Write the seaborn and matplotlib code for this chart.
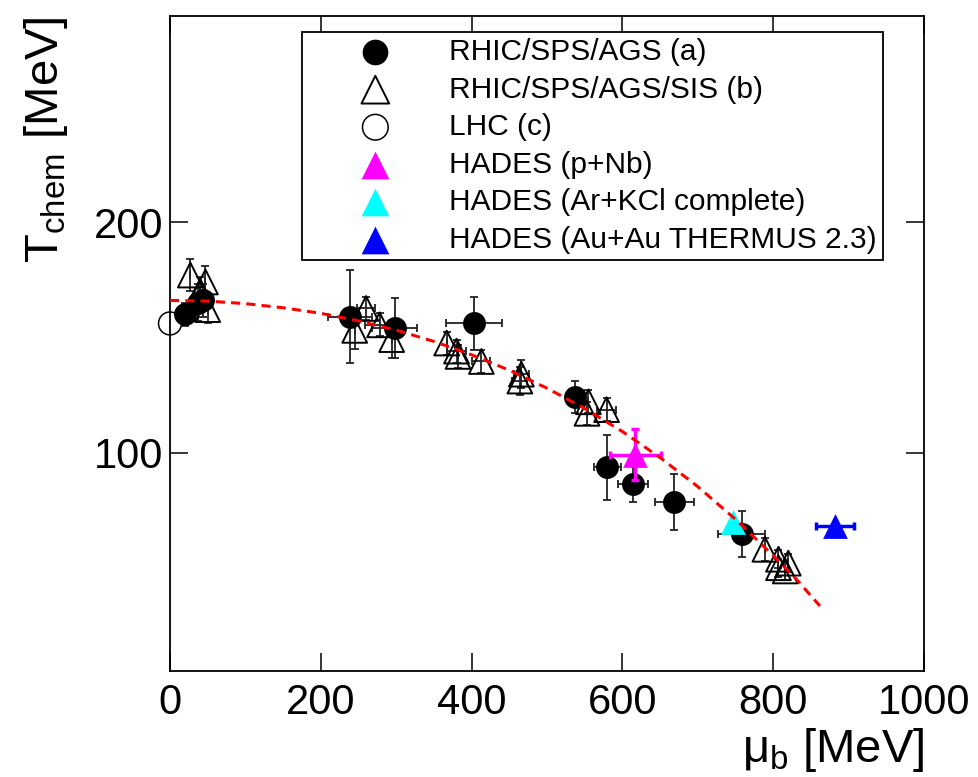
import matplotlib
matplotlib.use("Agg")
import matplotlib.pyplot as plt
import seaborn as sns
import numpy as np
import pandas as pd

# RHIC/SPS/AGS (a): filled circles
a_mu = [20, 37, 44, 239, 298, 403, 537, 580, 614, 669, 758]
a_T = [160, 165, 166, 159, 154, 156, 124, 93.5, 86.5, 78.5, 64.5]
a_xerr = [0, 0, 0, 29, 30, 37, 8, 18, 20, 26, 31]
a_yerr = [5, 8, 7, 20, 13, 11.5, 7, 14, 8, 12, 10]

# RHIC/SPS/AGS/SIS (b): open triangles
b_mu = [27, 47, 40, 50, 260, 245, 278, 294, 367, 380, 382, 413, 466, 464,
        555, 579, 553, 789, 807, 820, 807, 816]
b_T = [177, 174, 170, 162, 162.5, 153, 155.4, 149, 147.5, 144, 141.7, 139.5,
       134, 131, 122, 118.6, 117, 58, 53.7, 52, 50, 48.6]
b_xerr = [0, 0, 0, 0, 12, 0, 20, 0, 0, 12, 0, 12, 10, 10,
          0, 13, 0, 0, 0, 0, 0, 0]
b_yerr = [7, 7, 6, 6, 5, 8, 5, 8, 5, 5, 5, 5, 6, 6,
          5, 5, 5, 5, 4, 4, 4, 4]

# LHC (c)
c_mu = [0]
c_T = [156]

# HADES points
pnb_mu, pnb_T, pnb_xerr, pnb_yerr = [617], [99], [34], [11]
arkcl_mu, arkcl_T = [747], [70]
auau_mu, auau_T, auau_xerr = [882], [68], [25]

# Freeze-out curve
curve_mu = [0, 50, 100, 150, 200, 250, 300, 350, 400, 450, 500, 550, 600,
            650, 700, 750, 800, 830, 862]
curve_T = [166, 165.7, 164.6, 162.8, 160.4, 157.1, 153.1, 148.2, 142.4, 135.7,
           127.9, 119.1, 109.1, 97.8, 85.2, 71.0, 55.3, 45.3, 33.4]

labels = ["RHIC/SPS/AGS (a)", "RHIC/SPS/AGS/SIS (b)", "LHC (c)",
          "HADES (p+Nb)", "HADES (Ar+KCl complete)", "HADES (Au+Au THERMUS 2.3)"]

sns.set_theme(style="ticks")
plt.rcParams["font.family"] = ["Liberation Sans", "DejaVu Sans"]
plt.rcParams["mathtext.default"] = "regular"
plt.rcParams["text.color"] = "black"
plt.rcParams["axes.labelcolor"] = "black"

fig = plt.figure(figsize=(9.79, 7.77), dpi=100)
ax = fig.add_axes([170 / 979, 1 - 671 / 777, 754 / 979, 655 / 777])

ms = 16.5
s = ms ** 2
st = (ms * 1.08) ** 2
ebkw = dict(fmt="none", ecolor="#222222", elinewidth=1.3, capsize=3, capthick=1.3)

# error bars
ax.errorbar(b_mu, b_T, xerr=b_xerr, yerr=b_yerr, zorder=1, **ebkw)
ax.errorbar(a_mu, a_T, xerr=a_xerr, yerr=a_yerr, zorder=1, **ebkw)
ax.errorbar(pnb_mu, pnb_T, xerr=pnb_xerr, yerr=pnb_yerr, fmt="none",
            ecolor="#FF00FF", elinewidth=2.5, capsize=3, capthick=2.5, zorder=4)
ax.errorbar(auau_mu, auau_T, xerr=auau_xerr, fmt="none",
            ecolor="#0000FF", elinewidth=2.5, capsize=3, capthick=2.5, zorder=4)

# markers
sns.scatterplot(x=b_mu, y=b_T, marker="^", s=st, facecolors="none",
                edgecolor="black", linewidth=1.4, label=labels[1], ax=ax, zorder=2)
sns.scatterplot(x=a_mu, y=a_T, marker="o", s=s, color="black",
                edgecolor="black", linewidth=0, label=labels[0], ax=ax, zorder=3)
sns.scatterplot(x=c_mu, y=c_T, marker="o", s=s, facecolors="none",
                edgecolor="black", linewidth=1.1, label=labels[2], ax=ax, zorder=3,
                clip_on=False)
sns.scatterplot(x=pnb_mu, y=pnb_T, marker="^", s=st, color="#FF00FF",
                linewidth=0, label=labels[3], ax=ax, zorder=5)
sns.scatterplot(x=arkcl_mu, y=arkcl_T, marker="^", s=st, color="#00FFFF",
                linewidth=0, label=labels[4], ax=ax, zorder=5)
sns.scatterplot(x=auau_mu, y=auau_T, marker="^", s=st, color="#0000FF",
                linewidth=0, label=labels[5], ax=ax, zorder=5)

# freeze-out curve
sns.lineplot(x=curve_mu, y=curve_T, color="red", linewidth=2.2,
             dashes=False, ax=ax, zorder=6, sort=False)
ax.lines[-1].set_dashes((3, 2))

ax.set_xlim(0, 1000)
ax.set_ylim(5.2, 289.4)
ax.set_xticks([0, 200, 400, 600, 800, 1000])
ax.set_yticks([100, 200])

for sp in ax.spines.values():
    sp.set_linewidth(1.3)
    sp.set_color("black")
ax.tick_params(which="major", direction="in", length=13, width=1.1,
               top=True, right=True, labelsize=30, colors="black")
ax.tick_params(axis="x", pad=9)
ax.tick_params(axis="y", pad=5)

ax.set_xlabel(r"$\mu_{b}$ [MeV]", fontsize=34, loc="right", labelpad=2)
ax.set_ylabel(r"$T_{chem}$ [MeV]", fontsize=34, loc="top", labelpad=17)

handles, labs = ax.get_legend_handles_labels()
order = [labs.index(l) for l in labels]
leg = ax.legend([handles[i] for i in order], [labs[i] for i in order],
                loc="upper right", bbox_to_anchor=(0.9456, 0.9756),
                borderaxespad=0, fontsize=21.5, frameon=True, fancybox=False,
                edgecolor="black", framealpha=1, borderpad=0.2,
                handlelength=4.48, handletextpad=0.24, labelspacing=0.32,
                markerscale=1.12)
leg.get_frame().set_linewidth(1.3)

fig.savefig("out.png", dpi=100)
